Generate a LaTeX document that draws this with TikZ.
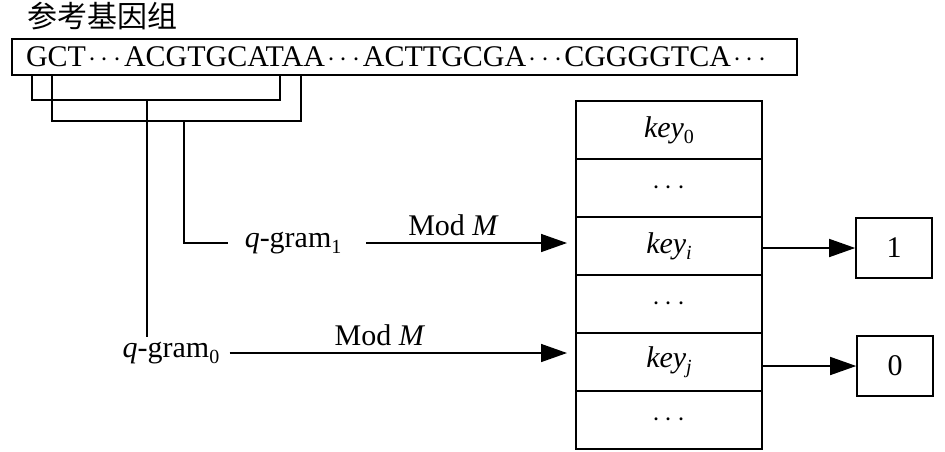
\documentclass[tikz,border=0pt]{standalone}
\usepackage{fontspec}
\setmainfont{Liberation Serif}
\newfontfamily\cjk{Noto Sans CJK SC}
\usetikzlibrary{arrows.meta}
\newcommand\lsub[1]{\raisebox{-0.45ex}{\fontsize{10}{10}\selectfont #1}}
\newcommand\gap{\kern1.1pt$\cdots$\kern1.1pt}
\tikzset{
  cell/.style={draw, line width=1pt, minimum width=93pt, minimum height=29pt, inner sep=0pt},
  outbox/.style={draw, line width=0.8pt, minimum width=38pt, minimum height=30pt, inner sep=0pt},
  arr/.style={-{Triangle[length=13pt,width=9pt]}},
}
\begin{document}
\begin{tikzpicture}[x=0.5pt, y=-0.5pt, line width=0.75pt,
    every node/.style={font=\fontsize{15}{18}\selectfont}]
    \useasboundingbox (0,0) rectangle (945,451);

    \node[anchor=west, inner sep=0pt] (title) at (27,16) {\cjk 参考基因组};
    \node[draw, line width=0.8pt, minimum height=18pt, inner xsep=7pt,
          text width=378.5pt, align=left] (seq) at (404.5,57)
          {GCT\gap ACGTGCATAA\gap ACTTGCGA\gap CGGGGTCA\gap};

    % brackets under the sequence
    \coordinate (s0) at (32,75);
    \coordinate (e0) at (280,75);
    \coordinate (s1) at (52,75);
    \coordinate (e1) at (301,75);
    \draw (s0) |- (280,100) -- (e0);
    \draw (s1) |- (301,121) -- (e1);

    % q-grams
    \node[anchor=west, inner xsep=8pt] (q1) at (228,243) {\textit{q}-gram\lsub{1}};
    \node (q0) at (171,353) {\textit{q}-gram\lsub{0}};
    \draw (147,100) -- (147,337);
    \draw (184,121) |- (q1.west);

    % hash table
    \foreach \i/\t in {0/{\textit{key}\lsub{0}},1/{$\cdots$},2/{\textit{key}\lsub{\textit{i}}},
                       3/{$\cdots$},4/{\textit{key}\lsub{\textit{j}}},5/{$\cdots$}}
        \node[cell] (r\i) at (669,130+58*\i) {\t};

    \node[outbox] (one) at (894,248) {1};
    \node[outbox] (zero) at (895,366) {0};

    \draw[arr, shorten <=4pt, shorten >=4pt] (q1.east) -- (q1.east -| r2.west)
        node[pos=0.44, above] {Mod \textit{M}};
    \draw[arr, shorten <=1.5pt, shorten >=4pt] (q0.east) -- (q0.east -| r4.west)
        node[pos=0.44, above] {Mod \textit{M}};
    \draw[arr] (r2.east |- one.west) -- (one.west);
    \draw[arr] (r4.east |- zero.west) -- (zero.west);
\end{tikzpicture}
\end{document}
